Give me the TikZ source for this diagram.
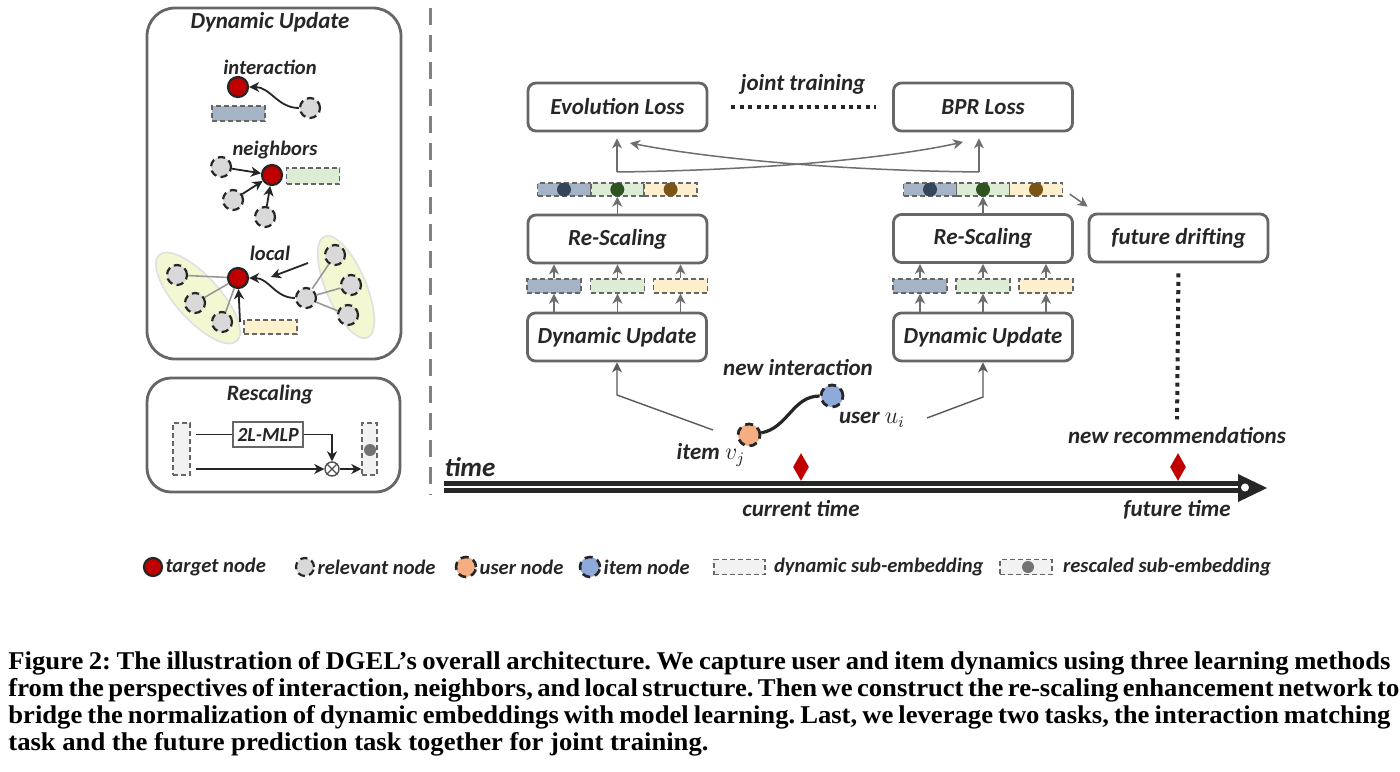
\documentclass[tikz,border=0pt]{standalone}
\usepackage{fontspec}
\setmainfont{Liberation Serif}
\newfontfamily\carlito{Carlito}
\newfontfamily\capfont[FakeStretch=1.04]{Liberation Serif}
\usetikzlibrary{arrows.meta,shapes.geometric}
\definecolor{ink}{HTML}{262626}
\definecolor{frame}{HTML}{666666}
\definecolor{arrowgray}{HTML}{6E6E6E}
\definecolor{embblue}{HTML}{A5B3C7}
\definecolor{embgreen}{HTML}{DDEDD5}
\definecolor{embyellow}{HTML}{FEF0CC}
\definecolor{emblight}{HTML}{F2F2F2}
\definecolor{dotblue}{HTML}{34465E}
\definecolor{dotgreen}{HTML}{2F5421}
\definecolor{dotbrown}{HTML}{7A5516}
\definecolor{target}{HTML}{C00000}
\definecolor{relgray}{HTML}{D9D9D9}
\definecolor{userorange}{HTML}{F4AE82}
\definecolor{itemblue}{HTML}{8EAADB}
\definecolor{localfill}{HTML}{F3F8D2}
\newcommand{\capline}[1]{\hbox to 691pt{#1}}

\begin{document}
\begin{tikzpicture}[x=.5pt,y=-.5pt,text=ink,
  box/.style={draw=frame,line width=1.4pt,rounded corners=4pt,minimum width=89.5pt,minimum height=24pt,
              inner sep=0pt,font=\carlito\bfseries\itshape\fontsize{11.5}{13}\selectfont},
  panel/.style={draw=frame,line width=1.4pt,rounded corners=14pt,inner sep=0pt},
  lbl/.style={font=\carlito\bfseries\itshape\fontsize{11.5}{13}\selectfont,inner sep=1pt},
  sublbl/.style={font=\carlito\bfseries\itshape\fontsize{10.3}{12}\selectfont,inner sep=1pt},
  emb/.style={draw=frame,dash pattern=on 2.5pt off 1.5pt,line width=.7pt,minimum width=26.5pt,
              minimum height=7pt,inner sep=0pt},
  tgt/.style={circle,draw=ink,line width=1.1pt,fill=target,minimum size=10pt,inner sep=0pt},
  rel/.style={circle,draw=ink,line width=1.1pt,dash pattern=on 3.6pt off 2.2pt,fill=relgray,
              minimum size=10pt,inner sep=0pt},
  edot/.style={circle,minimum size=7pt,inner sep=0pt},
  arr/.style={draw=arrowgray,line width=.75pt,-{Stealth[length=5pt,width=5pt,inset=1.5pt]}},
  blk/.style={draw=ink,line width=.9pt,-{Stealth[length=5pt,width=5pt,inset=1.5pt]}},
  dots/.style={draw=ink,line width=2pt,dash pattern=on 2pt off 2.2pt}]
\useasboundingbox[fill=white] (0,0) rectangle (1400,771);

% dynamic update panel
\node[panel,minimum width=127pt,minimum height=175.5pt] (dupanel) at (274,183.5) {};
\node[lbl] (dutitle) at (270,22) {Dynamic Update};
\node[sublbl] (lint) at (270,67) {interaction};
\node[tgt] (t1) at (238,87) {};
\node[rel] (g1) at (310,108) {};
\node[emb,fill=embblue,minimum height=7.5pt] (e1) at (238.5,113.5) {};
\draw[blk] (g1) to[out=180,in=0] (t1);

\node[sublbl] (lnb) at (275,150) {neighbors};
\node[tgt] (t2) at (272,175) {};
\node[rel] (n1) at (221,167) {};
\node[rel] (n2) at (233,200) {};
\node[rel] (n3) at (265,217) {};
\node[emb,fill=embgreen,minimum height=8pt] (e2) at (313,176) {};
\foreach \g in {n1,n2,n3} \draw[blk] (\g) -- (t2);

\node[sublbl] (lloc) at (270,253) {local};
\node[ellipse,fill=localfill,draw=black!12,line width=.8pt,minimum width=58pt,minimum height=22pt,
      rotate=-48] (grpL) at (198,298) {};
\node[ellipse,fill=localfill,draw=black!12,line width=.8pt,minimum width=55pt,minimum height=20pt,
      rotate=-67] (grpR) at (346,287) {};
\node[tgt] (t3) at (238,278) {};
\node[rel] (l1) at (177,275) {};
\node[rel] (l2) at (195,303) {};
\node[rel] (l3) at (222,322) {};
\node[rel] (h) at (306,298) {};
\node[rel] (r1) at (335,255) {};
\node[rel] (r2) at (351,285) {};
\node[rel] (r3) at (348,315) {};
\foreach \g in {l1,l2,l3} \draw[black!40,line width=.8pt] (\g) -- (t3);
\foreach \g in {r1,r2,r3} \draw[black!40,line width=.8pt] (h) -- (\g);
\draw[blk] (h) to[out=180,in=0] (t3);
\coordinate (pa) at (308,263);
\coordinate (pb) at (271,277);
\draw[blk] (pa) -- (pb);
\coordinate (pc) at (240,322);
\draw[blk] (pc) -- (t3);
\node[emb,fill=embyellow] (e3) at (270.5,327) {};

% rescaling panel
\node[panel,rounded corners=12pt,minimum width=126.5pt,minimum height=57pt] (rspanel) at (273.5,435) {};
\node[lbl,font=\carlito\bfseries\itshape\fontsize{11}{13}\selectfont] (rstitle) at (270,395) {Rescaling};
\node[emb,fill=emblight,minimum width=8.5pt,minimum height=26pt] (vin) at (181.5,449) {};
\node[draw=frame,line width=.8pt,minimum width=35pt,minimum height=12.5pt,inner sep=0pt,
      font=\carlito\bfseries\itshape\fontsize{10}{12}\selectfont] (mlp) at (268,434.5) {2L-MLP};
\node[circle,draw=ink!80,line width=.7pt,minimum size=7pt,inner sep=0pt] (mul) at (332,469) {};
\draw[ink!80,line width=.6pt] (mul.north west) -- (mul.south east) (mul.north east) -- (mul.south west);
\node[emb,fill=emblight,minimum width=7.5pt,minimum height=26pt] (vout) at (369.5,449) {};
\node[edot,fill=black!55,minimum size=6pt] (vdot) at (370,450) {};
\draw[ink,line width=.8pt,shorten <=2.5pt] (vin.east |- mlp.west) -- (mlp.west);
\draw[blk,line width=.8pt] (mlp.east) -| (mul.north);
\draw[blk,line width=.8pt,shorten <=2.5pt] (vin.east |- mul.west) -- (mul.west);
\draw[blk,line width=.8pt] (mul.east) -- (mul.east -| vout.west);

\coordinate (septop) at (430,8);
\coordinate (sepbot) at (430,495);
\draw[black!50,line width=1.5pt,dash pattern=on 8.5pt off 5pt] (septop) -- (sepbot);

% losses and stacks
\node[box] (evo) at (617.5,107) {Evolution Loss};
\node[box] (bpr) at (983,107) {BPR Loss};
\node[lbl] (jt) at (803,84) {joint training};
\draw[dots,shorten <=11.5pt,shorten >=8pt] (evo) -- (bpr);

\node[box] (rsL) at (617.5,239) {Re-Scaling};
\node[box] (rsR) at (983,238.5) {Re-Scaling};
\node[box] (fut) at (1178.5,238) {future drifting};
\node[box] (duL) at (617,337) {Dynamic Update};
\node[box] (duR) at (983,337) {Dynamic Update};

\foreach \x/\c/\d [count=\i] in {564/embblue/dotblue,617.3/embgreen/dotgreen,670.6/embyellow/dotbrown}{
  \node[emb,fill=\c,minimum height=6.5pt] (ra\i) at (\x,189.5) {};
  \node[edot,fill=\d] (ra\i d) at (\x,189.5) {};}
\foreach \x/\c/\d [count=\i] in {930/embblue/dotblue,983/embgreen/dotgreen,1036/embyellow/dotbrown}{
  \node[emb,fill=\c,minimum height=6.5pt] (rb\i) at (\x,189.5) {};
  \node[edot,fill=\d] (rb\i d) at (\x,189.5) {};}
\foreach \x/\c [count=\i] in {554/embblue,617.5/embgreen,680.5/embyellow}{
  \node[emb,fill=\c,minimum width=27pt] (sL\i) at (\x,286) {};
  \draw[arr] (sL\i |- duL.north) -- (sL\i.south);
  \draw[arr] (sL\i.north) -- (sL\i |- rsL.south);}
\foreach \x/\c [count=\i] in {920/embblue,983/embgreen,1046/embyellow}{
  \node[emb,fill=\c,minimum width=27pt] (sR\i) at (\x,286) {};
  \draw[arr] (sR\i |- duR.north) -- (sR\i.south);
  \draw[arr] (sR\i.north) -- (sR\i |- rsR.south);}
\draw[arr] (ra2 |- rsL.north) -- (ra2.south);
\draw[arr] (rb2 |- rsR.north) -- (rb2.south);

\coordinate (jL) at (617,172);
\coordinate (jR) at (979,172);
\coordinate (eL) at (630,143);
\coordinate (eR) at (963,142);
\draw[arr,shorten >=3pt] (jL) -- (jL |- evo.south);
\draw[arr,shorten >=3pt] (jR) -- (jR |- bpr.south);
\draw[arr] (jL) .. controls (780,170) and (900,156) .. (eR);
\draw[arr] (jR) .. controls (816,170) and (696,156) .. (eL);
\draw[arr,shorten <=4pt] (rb3.east) -- ([yshift=3pt]fut.north west);

\node[lbl] (recs) at (1177,436) {new recommendations};
\draw[dots,shorten <=5pt,shorten >=3pt] (fut.south) -- (recs.north);

% new interaction
\node[circle,draw=ink,line width=1.4pt,dash pattern=on 4pt off 2.5pt,fill=userorange,minimum size=11pt,
      inner sep=0pt] (item) at (749,435) {};
\node[circle,draw=ink,line width=1.4pt,dash pattern=on 4pt off 2.5pt,fill=itemblue,minimum size=11pt,
      inner sep=0pt] (user) at (832,396) {};
\draw[ink,line width=1.6pt] (item) to[out=10,in=180] (user);
\node[lbl] (newi) at (798,368) {new interaction};
\node[lbl] (ulab) at (872,420) {user $u_i$};
\node[lbl] (ilab) at (711,455) {item $v_j$};
\coordinate (inL) at (713,430);
\coordinate (kL) at (617,395);
\coordinate (inR) at (927,418);
\coordinate (kR) at (983,397);
\draw[arr,draw=black!65,line width=.7pt] (inL) -- (kL) -- (duL.south);
\draw[arr,draw=black!65,line width=.7pt] (inR) -- (kR) -- (duR.south);

% time axis
\coordinate (ts) at (444,487);
\coordinate (te) at (1242,487);
\draw[ink,line width=2.2pt,double=white,double distance=1.2pt] (ts) -- (te);
\fill[ink] (1238,474) -- (1267,488) -- (1238,502) -- cycle;
\node[circle,draw=ink,fill=white,line width=.8pt,minimum size=5pt,inner sep=0pt] (tend) at (1245,487.5) {};
\node[lbl,font=\carlito\bfseries\itshape\fontsize{13.5}{15}\selectfont] (timel) at (470,467) {time};
\node[diamond,fill=target,minimum width=8pt,minimum height=14pt,inner sep=0pt] (dcur) at (801,467) {};
\node[diamond,fill=target,minimum width=8pt,minimum height=14pt,inner sep=0pt] (dfut) at (1178,467) {};
\node[lbl] (curl) at (801,508) {current time};
\node[lbl] (futl) at (1177,510) {future time};

% legend
\node[tgt,minimum size=9pt] (kt) at (153,567) {};
\node[sublbl,anchor=west] (ktl) at (kt.east) {target node};
\node[rel,minimum size=9pt] (kr) at (305,567) {};
\node[sublbl,anchor=west] (krl) at (kr.east) {relevant node};
\node[circle,draw=ink,line width=1.3pt,dash pattern=on 4pt off 2.5pt,fill=userorange,minimum size=10pt,
      inner sep=0pt] (ku) at (466,567) {};
\node[sublbl,anchor=west] (kul) at (ku.east) {user node};
\node[circle,draw=ink,line width=1.3pt,dash pattern=on 4pt off 2.5pt,fill=itemblue,minimum size=10pt,
      inner sep=0pt] (ki) at (590,567) {};
\node[sublbl,anchor=west] (kil) at (ki.east) {item node};
\node[emb,fill=emblight,minimum width=25.5pt,minimum height=7.5pt] (kd) at (739.5,567) {};
\node[sublbl,anchor=west] (kdl) at ([xshift=3pt]kd.east) {dynamic sub-embedding};
\node[emb,fill=emblight,minimum width=26pt,minimum height=7.5pt] (ks) at (1026,567) {};
\node[edot,fill=black!55,minimum size=6pt] (ksd) at (1028,567) {};
\node[sublbl,anchor=west] (ksl) at ([xshift=4pt]ks.east) {rescaled sub-embedding};

% caption
\node[anchor=north west,inner sep=0pt,align=left,text=black,
      font=\capfont\bfseries\fontsize{12.8}{13.5}\selectfont\frenchspacing] (cap) at (8,651)
  {\capline{Figure 2: The illustration of DGEL’s overall architecture. We capture user and item dynamics using three learning methods}\\
   \capline{from the perspectives of interaction, neighbors, and local structure. Then we construct the re-scaling enhancement network to}\\
   \capline{bridge the normalization of dynamic embeddings with model learning. Last, we leverage two tasks, the interaction matching}\\
   task and the future prediction task together for joint training.};
\end{tikzpicture}
\end{document}
